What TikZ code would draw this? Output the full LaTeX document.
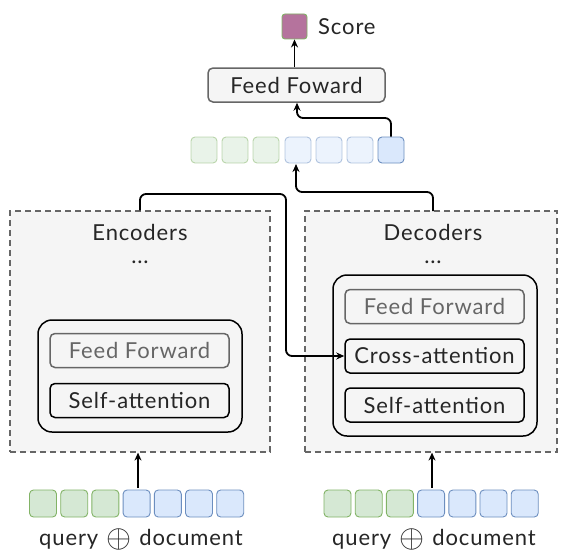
\documentclass[tikz,border=0pt]{standalone}
\usepackage{fontspec}
\setmainfont{Lato}[LetterSpace=4]
\usetikzlibrary{arrows.meta}
\definecolor{gfill}{HTML}{D5E8D4}
\definecolor{gdraw}{HTML}{82B366}
\definecolor{bfill}{HTML}{DAE8FC}
\definecolor{bdraw}{HTML}{6C8EBF}
\definecolor{boxfill}{HTML}{F5F5F5}
\definecolor{boxdraw}{HTML}{666666}
\definecolor{scorefill}{HTML}{B5739D}
\tikzset{
  txt/.style={font=\fontsize{22}{26}\selectfont, text=black!85},
  tok/.style={rectangle, rounded corners=4pt, minimum width=26pt, minimum height=26pt, inner sep=0pt, line width=0.9pt},
  gtok/.style={tok, fill=gfill, draw=gdraw},
  btok/.style={tok, fill=bfill, draw=bdraw},
  faded/.style={opacity=0.5},
  stack/.style={rectangle, draw=boxdraw, dash pattern=on 6pt off 4pt, fill=boxfill, line width=1.2pt, inner sep=0pt},
  layer/.style={rectangle, rounded corners=14pt, draw=black, fill=boxfill, line width=1.5pt, inner sep=0pt},
  sub/.style={txt, rectangle, rounded corners=5pt, fill=boxfill, line width=1.5pt, inner sep=0pt, minimum width=179pt, minimum height=34pt},
  blk/.style={sub, draw=black},
  gry/.style={sub, draw=boxdraw, text=boxdraw},
  arr/.style={-{Stealth[length=8pt,width=7pt]}, line width=1.8pt, rounded corners=6pt},
}
\newcommand{\myoplus}{\raisebox{-0.15ex}{\scalebox{1.55}{$\oplus$}}}
\begin{document}
\begin{tikzpicture}[x=1pt,y=-1pt]
\useasboundingbox[fill=white] (0,0) rectangle (561,551);
% score
\node[rectangle, rounded corners=3pt, fill=scorefill, draw=gdraw, line width=0.9pt, minimum width=25pt, minimum height=25pt, inner sep=0pt] (score) at (294.5,26.5) {};
\node[txt, anchor=west, inner sep=0pt] (scoretxt) at (318,26.5) {Score};
% top feed forward
\node[txt, rectangle, rounded corners=5pt, fill=boxfill, draw=boxdraw, line width=1.5pt, minimum width=177pt, minimum height=34pt, inner sep=0pt] (ff) at (296.5,85) {Feed Foward};
% top tokens
\foreach \i/\x in {1/204,2/235,3/266} \node[gtok, faded] (t\i) at (\x,150) {};
\foreach \i/\x in {4/298,5/329,6/360} \node[btok, faded] (t\i) at (\x,150) {};
\node[btok] (t7) at (391,150) {};
% stacks
\node[stack, minimum width=260pt, minimum height=241pt] (enc) at (140,331.5) {};
\node[stack, minimum width=252pt, minimum height=241pt] (dec) at (431,331.5) {};
\node[txt] (enclab) at (140,232) {Encoders};
\node[txt] (encdots) at (140,262) {...};
\node[txt] (declab) at (433,232) {Decoders};
\node[txt] (decdots) at (433,262) {...};
% encoder layer
\node[layer, minimum width=204pt, minimum height=112pt] (encin) at (140,376) {};
\node[gry] (encff) at (139.5,350.5) {Feed Forward};
\node[blk] (encsa) at (139.5,400.5) {Self-attention};
% decoder layer
\node[layer, minimum width=204pt, minimum height=161pt] (decin) at (435,355.5) {};
\node[gry] (decff) at (434.5,306.5) {Feed Forward};
\node[blk] (decca) at (434.5,356) {Cross-attention};
\node[blk] (decsa) at (434.5,405) {Self-attention};
% bottom tokens
\foreach \i in {0,1,2} {
  \node[gtok, minimum width=27pt, minimum height=27pt] (l\i) at (43+31.2*\i,503.5) {};
  \node[gtok, minimum width=27pt, minimum height=27pt] (r\i) at (337.5+31.2*\i,503.5) {};
}
\foreach \i in {3,4,5,6} {
  \node[btok, minimum width=27pt, minimum height=27pt] (l\i) at (43+31.2*\i,503.5) {};
  \node[btok, minimum width=27pt, minimum height=27pt] (r\i) at (337.5+31.2*\i,503.5) {};
}
\node[txt] (lq) at (141,539) {query\hspace{8pt}\myoplus\hspace{8pt}document};
\node[txt] (rq) at (434,539) {query\hspace{8pt}\myoplus\hspace{8pt}document};
% arrows
\coordinate (ea) at (138,488);
\coordinate (da) at (432,488);
\coordinate (decout) at (433,211);
\coordinate (ffin) at (297,118);
\draw[arr] (ea) -- (ea |- enc.south);
\draw[arr] (da) -- (da |- dec.south);
\draw[arr] (enc.north) -- (140,194) -- (286,194) -- (286,356) -- (decca.west);
\draw[arr] (decout) -- (433,192) -- (296,192) -- (296,164);
\draw[arr] (t7.north) -- (391,118) -- (ffin) -- (ffin |- ff.south);
\draw[arr] (ff.north -| score.south) -- (score.south);
\end{tikzpicture}
\end{document}
